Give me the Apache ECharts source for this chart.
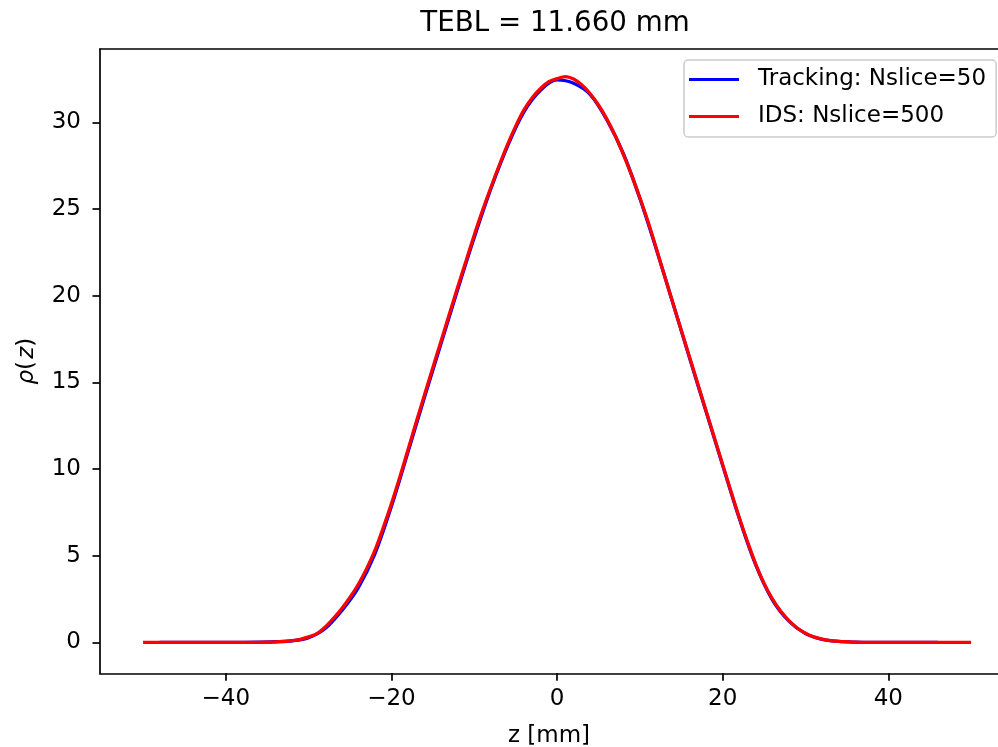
<!DOCTYPE html>
<html><head><meta charset="utf-8">
<script src="https://cdn.jsdelivr.net/npm/echarts@6/dist/echarts.min.js"></script>
<style>html,body{margin:0;padding:0;background:#fff}#c{width:998px;height:747px}</style>
</head><body><div id="c"></div>
<script>
const titleText = 'TEBL = 11.660 mm';
const xName = 'z [mm]';
const seriesNames = ['Tracking: Nslice=50', 'IDS: Nslice=500'];
const xTicks = [-40, -20, 0, 20, 40];
const yTicks = [0, 5, 10, 15, 20, 25, 30];

const redZ = [-50,-49,-48,-47,-46,-45,-44,-43,-42,-41,-40,-39,-38,-37,-36,-35,-34,-33,-32,-31,-30,-29,-28,-27,-26,-25,-24,-23,-22,-21,-20,-19,-18,-17,-16,-15,-14,-13,-12,-11,-10,-9,-8,-7,-6,-5,-4,-3,-2,-1,0,1,2,3,4,5,6,7,8,9,10,11,12,13,14,15,16,17,18,19,20,21,22,23,24,25,26,27,28,29,30,31,32,33,34,35,36,37,38,39,40,41,42,43,44,45,46,47,48,49,50];
const redRho = [0,0,0,0,0,0,0,0,0,0,0,0,0,0,0,0.01,0.02,0.05,0.09,0.17,0.31,0.5,0.88,1.38,1.95,2.6,3.35,4.25,5.3,6.6,8.0,9.52,11.12,12.72,14.3,15.86,17.4,18.95,20.5,22.0,23.5,24.92,26.24,27.5,28.7,29.78,30.72,31.42,31.95,32.34,32.52,32.64,32.5,32.15,31.65,31.0,30.2,29.25,28.15,26.95,25.65,24.25,22.7,21.1,19.55,18.0,16.45,14.9,13.35,11.8,10.25,8.7,7.2,5.8,4.5,3.4,2.5,1.8,1.25,0.82,0.52,0.31,0.18,0.1,0.05,0.03,0.01,0,0,0,0,0,0,0,0,0,0,0,0,0,0];

const blueZ = [-48,-46,-44,-42,-40,-38,-36,-34,-32,-30,-28,-26,-24,-22,-20,-18,-16,-14,-12,-10,-8,-6,-4,-2,0,2,4,6,8,10,12,14,16,18,20,22,24,26,28,30,32,34,36,38,40,42,44,46];
const blueRho = [0,0,0,0,0,0,0.01,0.03,0.08,0.27,0.8,1.82,3.15,5.1,7.85,10.98,14.15,17.25,20.35,23.35,26.15,28.6,30.6,31.85,32.45,32.25,31.6,30.15,28.2,25.6,22.65,19.55,16.4,13.3,10.2,7.15,4.45,2.45,1.22,0.5,0.17,0.05,0.01,0,0,0,0,0];

const FONT = 'DejaVu Sans';
const FS = 23;
const chart = echarts.init(document.getElementById('c'), null, {renderer: 'canvas'});
const fmt = v => String(v).replace('-', '\u2212');
const axisLineStyle = {color: '#000', width: 1.7};

chart.setOption({
  animation: false,
  backgroundColor: '#fff',
  graphic: [{
    type: 'text', x: 555, y: 24,
    style: {text: titleText, font: '27.7px "DejaVu Sans"', fill: '#000', align: 'center', verticalAlign: 'middle'}
  }],
  legend: {
    orient: 'vertical', left: 684, top: 60,
    padding: [6, 10, 7, 5],
    itemWidth: 50, itemHeight: 3, itemGap: 10,
    icon: 'rect',
    backgroundColor: 'rgba(255,255,255,0.8)',
    borderColor: '#cccccc', borderWidth: 1.5, borderRadius: 4,
    textStyle: {fontFamily: FONT, fontSize: FS, color: '#000', padding: [0, 0, 0, 14], lineHeight: 27},
    data: seriesNames
  },
  grid: {left: 100, top: 49, width: 898, height: 624.3, show: false, containLabel: false, outerBoundsMode: 'none'},
  xAxis: [{
    type: 'value', min: -55.2, max: 53.25,
    name: xName, nameLocation: 'middle', nameGap: 51,
    nameTextStyle: {fontFamily: FONT, fontSize: FS, color: '#000'},
    axisLine: {show: true, onZero: false, lineStyle: axisLineStyle},
    axisTick: {show: true, length: 7.5, lineStyle: axisLineStyle, customValues: xTicks},
    axisLabel: {fontFamily: FONT, fontSize: FS, color: '#000', margin: 14, formatter: fmt, customValues: xTicks},
    splitLine: {show: false}
  }, {
    type: 'value', position: 'top', min: -55.2, max: 53.25,
    axisLine: {show: true, onZero: false, lineStyle: axisLineStyle},
    axisTick: {show: false}, axisLabel: {show: false}, splitLine: {show: false}
  }],
  yAxis: {
    type: 'value', min: -1.79, max: 34.23,
    name: '{i|ρ}(\u200a{i|z})', nameLocation: 'middle', nameGap: 61, nameRotate: 90,
    nameTextStyle: {fontFamily: FONT, fontSize: FS, color: '#000',
      rich: {i: {fontFamily: FONT, fontSize: FS, fontStyle: 'italic', color: '#000'}}},
    axisLine: {show: true, onZero: false, lineStyle: axisLineStyle},
    axisTick: {show: true, length: 7.5, lineStyle: axisLineStyle, customValues: yTicks},
    axisLabel: {fontFamily: FONT, fontSize: FS, color: '#000', margin: 19, formatter: fmt, customValues: yTicks},
    splitLine: {show: false}
  },
  series: [
    {
      name: seriesNames[0], type: 'line', showSymbol: false, symbol: 'none', smooth: 0.35,
      xAxisIndex: 0,
      data: blueZ.map((z, i) => [z, blueRho[i]]),
      lineStyle: {color: '#0000ff', width: 3.3}, itemStyle: {color: '#0000ff'}
    },
    {
      name: seriesNames[1], type: 'line', showSymbol: false, symbol: 'none', smooth: 0.35,
      xAxisIndex: 0,
      data: redZ.map((z, i) => [z, redRho[i]]),
      lineStyle: {color: '#ff0000', width: 3.3}, itemStyle: {color: '#ff0000'}
    }
  ]
});
</script>
</body></html>
